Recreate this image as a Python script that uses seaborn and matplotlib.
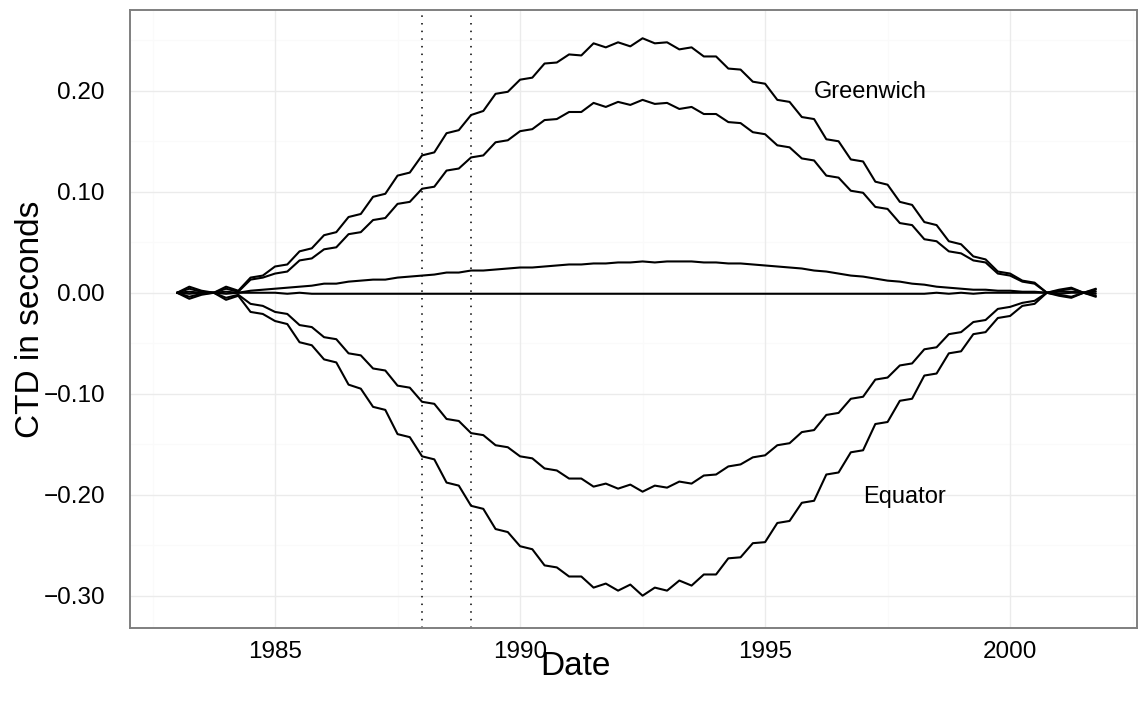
import numpy as np
import pandas as pd
import matplotlib
matplotlib.use("Agg")
import matplotlib.pyplot as plt
import seaborn as sns

sns.set_theme(style="white")
plt.rcParams['font.family'] = ['Liberation Sans', 'DejaVu Sans']
plt.rcParams['text.color'] = 'black'
plt.rcParams['axes.labelcolor'] = 'black'

# quarter-year grid, values (seconds)
years = np.arange(1983.0, 2002.0, 0.25)

greenwich_1 = [
    0.000, 0.006, 0.002, 0.000,   # 1983
    0.006, 0.002, 0.015, 0.017,   # 1984
    0.026, 0.028, 0.041, 0.044,   # 1985
    0.057, 0.060, 0.075, 0.078,   # 1986
    0.095, 0.098, 0.116, 0.119,   # 1987
    0.136, 0.139, 0.158, 0.161,   # 1988
    0.176, 0.180, 0.197, 0.199,   # 1989
    0.211, 0.213, 0.227, 0.228,   # 1990
    0.236, 0.235, 0.247, 0.243,   # 1991
    0.248, 0.244, 0.252, 0.247,   # 1992
    0.248, 0.241, 0.243, 0.234,   # 1993
    0.234, 0.222, 0.221, 0.209,   # 1994
    0.207, 0.191, 0.189, 0.174,   # 1995
    0.172, 0.152, 0.150, 0.132,   # 1996
    0.130, 0.110, 0.107, 0.090,   # 1997
    0.087, 0.070, 0.067, 0.051,   # 1998
    0.048, 0.036, 0.033, 0.021,   # 1999
    0.019, 0.012, 0.010, 0.000,   # 2000
    0.003, 0.005, 0.000, 0.004,   # 2001
]
greenwich_2 = [
    0.000, 0.004, 0.001, 0.000,
    0.004, 0.001, 0.013, 0.015,
    0.019, 0.021, 0.032, 0.034,
    0.043, 0.045, 0.058, 0.060,
    0.072, 0.074, 0.088, 0.090,
    0.103, 0.105, 0.121, 0.123,
    0.134, 0.136, 0.149, 0.151,
    0.160, 0.162, 0.171, 0.172,
    0.179, 0.179, 0.188, 0.184,
    0.189, 0.186, 0.191, 0.187,
    0.188, 0.182, 0.184, 0.177,
    0.177, 0.169, 0.168, 0.159,
    0.157, 0.146, 0.144, 0.133,
    0.131, 0.116, 0.114, 0.101,
    0.099, 0.085, 0.083, 0.069,
    0.067, 0.053, 0.051, 0.041,
    0.039, 0.032, 0.030, 0.019,
    0.017, 0.011, 0.009, 0.000,
    0.002, 0.004, 0.000, 0.003,
]
small = [
    0.000, 0.001, 0.000, 0.000,
    0.001, 0.000, 0.002, 0.003,
    0.004, 0.005, 0.006, 0.007,
    0.009, 0.009, 0.011, 0.012,
    0.013, 0.013, 0.015, 0.016,
    0.017, 0.018, 0.020, 0.020,
    0.022, 0.022, 0.023, 0.024,
    0.025, 0.025, 0.026, 0.027,
    0.028, 0.028, 0.029, 0.029,
    0.030, 0.030, 0.031, 0.030,
    0.031, 0.031, 0.031, 0.030,
    0.030, 0.029, 0.029, 0.028,
    0.027, 0.026, 0.025, 0.024,
    0.022, 0.021, 0.019, 0.017,
    0.016, 0.014, 0.012, 0.011,
    0.009, 0.008, 0.006, 0.005,
    0.004, 0.003, 0.003, 0.002,
    0.002, 0.001, 0.001, 0.000,
    0.001, 0.001, 0.000, 0.001,
]
zero = [
    0.000, -0.001, 0.000, 0.000,
    -0.001, 0.000, 0.000, 0.000,
    0.000, -0.001, 0.000, -0.001,
    -0.001, -0.001, -0.001, -0.001,
    -0.001, -0.001, -0.001, -0.001,
    -0.001, -0.001, -0.001, -0.001,
    -0.001, -0.001, -0.001, -0.001,
    -0.001, -0.001, -0.001, -0.001,
    -0.001, -0.001, -0.001, -0.001,
    -0.001, -0.001, -0.001, -0.001,
    -0.001, -0.001, -0.001, -0.001,
    -0.001, -0.001, -0.001, -0.001,
    -0.001, -0.001, -0.001, -0.001,
    -0.001, -0.001, -0.001, -0.001,
    -0.001, -0.001, -0.001, -0.001,
    -0.001, -0.001, 0.000, -0.001,
    0.000, -0.001, 0.000, 0.000,
    0.000, 0.000, 0.000, 0.000,
    -0.001, 0.000, 0.000, -0.001,
]
equator_2 = [
    0.000, -0.004, -0.001, 0.000,
    -0.005, -0.002, -0.011, -0.013,
    -0.019, -0.021, -0.032, -0.034,
    -0.044, -0.046, -0.060, -0.062,
    -0.075, -0.077, -0.092, -0.094,
    -0.108, -0.110, -0.125, -0.127,
    -0.139, -0.141, -0.151, -0.153,
    -0.162, -0.164, -0.174, -0.176,
    -0.184, -0.184, -0.192, -0.189,
    -0.194, -0.190, -0.197, -0.191,
    -0.193, -0.187, -0.189, -0.181,
    -0.180, -0.172, -0.170, -0.163,
    -0.161, -0.151, -0.149, -0.138,
    -0.136, -0.121, -0.119, -0.105,
    -0.103, -0.086, -0.084, -0.072,
    -0.070, -0.056, -0.054, -0.041,
    -0.039, -0.029, -0.027, -0.016,
    -0.014, -0.010, -0.008, 0.000,
    -0.002, -0.004, 0.000, -0.003,
]
equator_1 = [
    0.000, -0.006, -0.002, 0.000,
    -0.007, -0.003, -0.019, -0.021,
    -0.028, -0.031, -0.049, -0.052,
    -0.066, -0.069, -0.091, -0.095,
    -0.113, -0.116, -0.140, -0.143,
    -0.162, -0.165, -0.188, -0.191,
    -0.211, -0.214, -0.234, -0.237,
    -0.251, -0.254, -0.270, -0.272,
    -0.281, -0.281, -0.292, -0.288,
    -0.295, -0.289, -0.300, -0.292,
    -0.295, -0.285, -0.290, -0.279,
    -0.279, -0.263, -0.262, -0.248,
    -0.247, -0.228, -0.226, -0.208,
    -0.206, -0.180, -0.178, -0.158,
    -0.156, -0.130, -0.128, -0.107,
    -0.105, -0.082, -0.080, -0.060,
    -0.058, -0.041, -0.039, -0.025,
    -0.023, -0.013, -0.011, 0.000,
    -0.003, -0.005, 0.000, -0.004,
]

marked_years = [1988, 1989]
x_ticks = [1985, 1990, 1995, 2000]
y_ticks = [-0.30, -0.20, -0.10, 0.00, 0.10, 0.20]
y_labels = ['\u22120.30', '\u22120.20', '\u22120.10', '0.00', '0.10', '0.20']
labels = ['Greenwich', 'Equator']
label_pos = [(1997.15, 0.199), (1997.85, -0.202)]

curves = {'g1': greenwich_1, 'g2': greenwich_2, 's': small, 'z': zero,
          'e2': equator_2, 'e1': equator_1}
df = pd.concat([pd.DataFrame({'year': years, 'ctd': v, 'curve': k})
                for k, v in curves.items()], ignore_index=True)

fig = plt.figure(figsize=(11.38, 7.04), dpi=100)
ax = fig.add_axes([130/1138, 76/704, 1007/1138, 618/704])

# grid like theme_bw
for xm in [1982.5, 1987.5, 1992.5, 1997.5, 2002.5]:
    ax.axvline(xm, color='#FAFAFA', lw=0.8, zorder=0)
for ym in [-0.25, -0.15, -0.05, 0.05, 0.15, 0.25]:
    ax.axhline(ym, color='#FAFAFA', lw=0.8, zorder=0)
for xt in x_ticks:
    ax.axvline(xt, color='#EBEBEB', lw=1.0, zorder=0)
for yt in y_ticks:
    ax.axhline(yt, color='#EBEBEB', lw=1.0, zorder=0)

sns.lineplot(data=df, x='year', y='ctd', units='curve', estimator=None,
             color='black', lw=1.5, sort=False, ax=ax, legend=False,
             solid_joinstyle='round')

for yr in marked_years:
    ax.axvline(yr, color='black', lw=1.1, linestyle=(0, (1, 4)))

for txt, (lx, ly) in zip(labels, label_pos):
    ax.text(lx, ly, txt, ha='center', va='center', fontsize=17, color='black')

ax.set_xlim(1982.04, 2002.59)
ax.set_ylim(-0.332, 0.280)
ax.set_xticks(x_ticks)
ax.set_xticklabels([str(x) for x in x_ticks])
ax.set_yticks(y_ticks)
ax.set_yticklabels(y_labels)
ax.tick_params(axis='both', which='major', length=4, width=1, color='#333333',
               labelsize=17.5, labelcolor='black', direction='out')
ax.tick_params(axis='y', pad=14)
ax.tick_params(axis='x', pad=5)
ax.grid(False)
for sp in ax.spines.values():
    sp.set_color('#7F7F7F')
    sp.set_linewidth(1.4)

ax.set_xlabel('Date', fontsize=24)
ax.set_ylabel('CTD in seconds', fontsize=24)
ax.xaxis.set_label_coords(0.442, -0.037)
ax.yaxis.set_label_coords(-0.083, 0.5)

# title sits mostly above the canvas, as in the source image
fig.text(605/1138, 1 + 1.5/704, 'CTD for different latitudes', ha='center',
         va='baseline', fontsize=29)

fig.savefig('out.png', dpi=100)
